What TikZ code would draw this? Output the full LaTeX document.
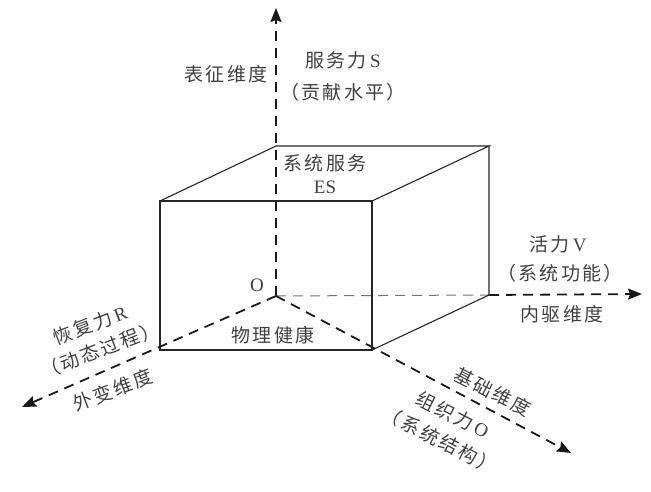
\documentclass[tikz,border=0pt]{standalone}
\usepackage{fontspec}
\setmainfont{Liberation Serif}
\newfontfamily\cjk[LetterSpace=12]{Noto Sans CJK SC}
\usetikzlibrary{arrows.meta}
\begin{document}
\begin{tikzpicture}[x=1pt,y=-1pt,
  edge/.style={line width=1.1pt, black!85, line join=miter},
  axisline/.style={line width=1.8pt, black!90, dash pattern=on 10pt off 7pt},
  axis/.style={axisline, -{Stealth[length=14pt,width=11pt,inset=2pt]}},
  axisthin/.style={line width=1pt, black!55, dash pattern=on 10pt off 7pt},
  lbl/.style={font=\fontsize{19}{22}\selectfont, text=black!75, inner sep=0pt}]
\path[use as bounding box] (0,0) rectangle (651,492);
% coordinates
\coordinate (O) at (276,296);
\coordinate (FBL) at (160,350);
\coordinate (FBR) at (372,350);
\coordinate (FTL) at (160,201);
\coordinate (FTR) at (372,201);
\coordinate (BTL) at (276,146);
\coordinate (BTR) at (489,146);
\coordinate (BBR) at (489,295);
\coordinate (Stip) at (276,8);
\coordinate (Vtip) at (642,294);
\coordinate (Rtip) at (22,407);
\coordinate (Otip) at (571,453);
% axes
\draw[axis] (O) -- (Stip);
\draw[axisthin] (O) -- (BBR);
\draw[axis] (BBR) -- (Vtip);
\draw[axis] (O) -- (Rtip);
\draw[axis] (O) -- (Otip);
% cube
\draw[edge] (FBL) rectangle (FTR);
\draw[edge] (FTL) -- (BTL) -- (BTR) -- (FTR);
\draw[edge] (BTR) -- (BBR) -- (FBR);
% labels
\node[lbl] (s1) at (343,60) {{\cjk 服务力}\,S};
\node[lbl] (s2) at (343,92) {{\cjk （贡献水平）}};
\node[lbl] (s3) at (226,74) {{\cjk 表征维度}};
\node[lbl] (es1) at (325,163) {{\cjk 系统服务}};
\node[lbl] (es2) at (325,187) {ES};
\node[lbl] (o) at (257,285) {O};
\node[lbl] (ph) at (273,335) {{\cjk 物理健康}};
\node[lbl] (v1) at (558,244) {{\cjk 活力}\,V};
\node[lbl] (v2) at (560,273) {{\cjk （系统功能）}};
\node[lbl] (v3) at (562,314) {{\cjk 内驱维度}};
\node[lbl, rotate=21] (r1) at (90,325) {{\cjk 恢复力}\,R};
\node[lbl, rotate=21] (r2) at (100,350) {{\cjk （动态过程）}};
\node[lbl, rotate=21] (r3) at (113,390) {{\cjk 外变维度}};
\node[lbl, rotate=-27] (b1) at (493,392) {{\cjk 基础维度}};
\node[lbl, rotate=-27] (b2) at (453,415) {{\cjk 组织力}\,O};
\node[lbl, rotate=-27] (b3) at (440,440) {{\cjk （系统结构）}};
\end{tikzpicture}
\end{document}
